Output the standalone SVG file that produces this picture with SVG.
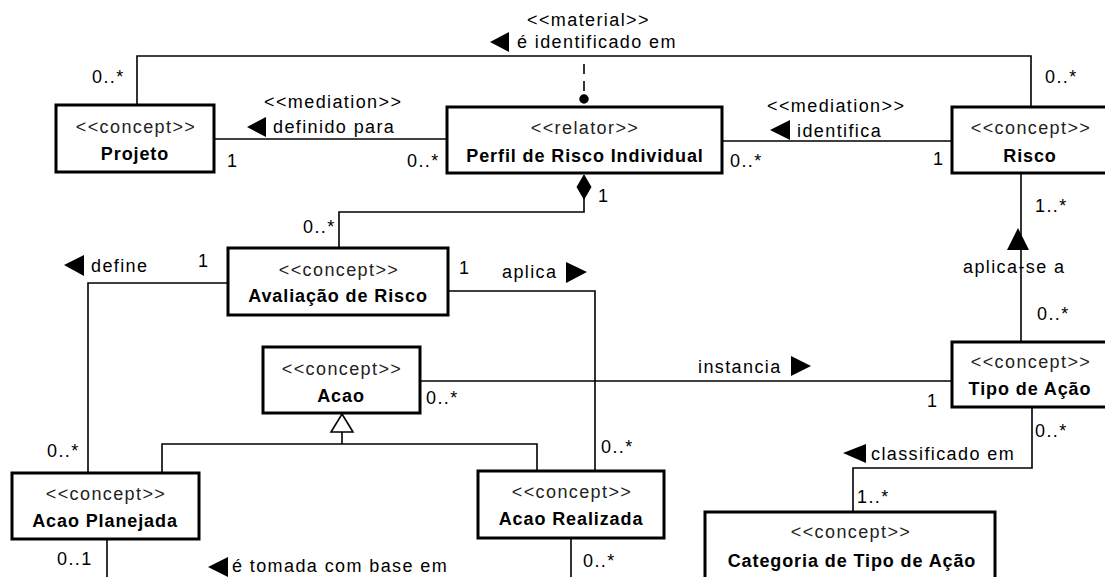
<svg xmlns="http://www.w3.org/2000/svg" width="1105" height="577" viewBox="0 0 1105 577">
<style>
  .box { fill: #fff; stroke: #000; stroke-width: 3; }
  .st { font-family: "Liberation Sans", Arial, sans-serif; font-size: 18px; letter-spacing: 1.4px; fill: #222; text-anchor: middle; }
  .nm { font-family: "Liberation Sans", Arial, sans-serif; font-size: 18px; font-weight: bold; letter-spacing: 0.9px; fill: #000; text-anchor: middle; }
  .lb { font-family: "Liberation Sans", Arial, sans-serif; font-size: 18px; letter-spacing: 1.4px; fill: #000; }
  .ln { fill: none; stroke: #000; stroke-width: 1.6; }
  .dir { fill: #000; stroke: none; }
</style>
<rect width="1105" height="577" fill="#fff"/>

<g id="connectors">
  <!-- material: Projeto - Risco -->
  <polyline class="ln" points="137,105 137,56 1031,56 1031,107"/>
  <line class="ln" x1="584" y1="64" x2="584" y2="91" stroke-dasharray="10,7"/>
  <text class="lb" x="92" y="83">0..*</text>
  <text class="lb" x="1045" y="83">0..*</text>
  <text class="lb" x="527" y="26">&lt;&lt;material&gt;&gt;</text>
  <polygon class="dir" points="490,42 509,32 509,52"/>
  <text class="lb" x="517" y="48">é identificado em</text>

  <!-- mediation Projeto - Perfil -->
  <line class="ln" x1="214" y1="139" x2="447" y2="139"/>
  <text class="lb" x="264" y="108">&lt;&lt;mediation&gt;&gt;</text>
  <polygon class="dir" points="247,127 266,117 266,137"/>
  <text class="lb" x="273" y="133">definido para</text>
  <text class="lb" x="227" y="167">1</text>
  <text class="lb" x="407" y="167">0..*</text>

  <!-- mediation Perfil - Risco -->
  <line class="ln" x1="722" y1="141" x2="952" y2="141"/>
  <text class="lb" x="767" y="112">&lt;&lt;mediation&gt;&gt;</text>
  <polygon class="dir" points="770,130 790,120 790,140"/>
  <text class="lb" x="797" y="137">identifica</text>
  <text class="lb" x="730" y="167">0..*</text>
  <text class="lb" x="933" y="165">1</text>

  <!-- composition Perfil - Avaliacao -->
  <polyline class="ln" points="339,248 339,212 584,212 584,198"/>
  <polygon fill="#000" stroke="#000" stroke-width="1" points="584,175 591,187 584,199 577,187"/>
  <text class="lb" x="303" y="233">0..*</text>
  <text class="lb" x="598" y="202">1</text>

  <!-- define: Avaliacao - Acao Planejada -->
  <polyline class="ln" points="228,283 88,283 88,473"/>
  <polygon class="dir" points="64,265 84,255 84,276"/>
  <text class="lb" x="91" y="272">define</text>
  <text class="lb" x="198" y="267">1</text>
  <text class="lb" x="47" y="457">0..*</text>

  <!-- aplica: Avaliacao - Acao Realizada -->
  <polyline class="ln" points="448,291 595,291 595,471"/>
  <text class="lb" x="459" y="274">1</text>
  <text class="lb" x="502" y="278">aplica</text>
  <polygon class="dir" points="587,272 566,262 566,283"/>
  <text class="lb" x="601" y="453">0..*</text>

  <!-- generalization -->
  <polyline class="ln" points="162,473 162,444 537,444 537,471"/>
  <line class="ln" x1="342" y1="444" x2="342" y2="432"/>
  <polygon fill="#fff" stroke="#000" stroke-width="1.6" points="342,414 353,432 331,432"/>

  <!-- instancia: Acao - Tipo de Acao -->
  <line class="ln" x1="420" y1="381" x2="952" y2="381"/>
  <text class="lb" x="698" y="373">instancia</text>
  <polygon class="dir" points="811,366 791,356 791,376"/>
  <text class="lb" x="426" y="404">0..*</text>
  <text class="lb" x="927" y="407">1</text>

  <!-- aplica-se a: Tipo de Acao - Risco -->
  <line class="ln" x1="1021" y1="173" x2="1021" y2="342"/>
  <polygon class="dir" points="1018,228 1029,250 1007,250"/>
  <text class="lb" x="963" y="273">aplica-se a</text>
  <text class="lb" x="1035" y="212">1..*</text>
  <text class="lb" x="1037" y="320">0..*</text>

  <!-- classificado em -->
  <polyline class="ln" points="1032,407 1032,468 853,468 853,512"/>
  <polygon class="dir" points="843,453 866,444 866,463"/>
  <text class="lb" x="871" y="460">classificado em</text>
  <text class="lb" x="1035" y="437">0..*</text>
  <text class="lb" x="857" y="503">1..*</text>

  <!-- é tomada com base em: Acao Planejada - Acao Realizada (continues below) -->
  <line class="ln" x1="107" y1="539" x2="107" y2="580"/>
  <line class="ln" x1="571" y1="538" x2="571" y2="580"/>
  <text class="lb" x="57" y="565">0..1</text>
  <text class="lb" x="583" y="567">0..*</text>
  <polygon class="dir" points="208,567 228,557 228,577"/>
  <text class="lb" x="232" y="572">é tomada com base em</text>
</g>

<g id="projeto">
  <rect class="box" x="56" y="105" width="158" height="67"/>
  <text class="st" x="136" y="133">&lt;&lt;concept&gt;&gt;</text>
  <text class="nm" x="135" y="160">Projeto</text>
</g>
<g id="perfil">
  <rect class="box" x="447" y="107" width="275" height="66"/>
  <text class="st" x="585" y="134">&lt;&lt;relator&gt;&gt;</text>
  <text class="nm" x="585" y="162">Perfil de Risco Individual</text>
</g>
<circle cx="584" cy="99" r="5.5" fill="#000" stroke="#fff" stroke-width="1.5"/>
<g id="risco">
  <rect class="box" x="952" y="107" width="157" height="66"/>
  <text class="st" x="1031" y="134">&lt;&lt;concept&gt;&gt;</text>
  <text class="nm" x="1030" y="162">Risco</text>
</g>
<g id="avaliacao">
  <rect class="box" x="228" y="248" width="220" height="67"/>
  <text class="st" x="339" y="276">&lt;&lt;concept&gt;&gt;</text>
  <text class="nm" x="338" y="302">Avaliação de Risco</text>
</g>
<g id="acao">
  <rect class="box" x="263" y="347" width="157" height="66"/>
  <text class="st" x="342" y="375">&lt;&lt;concept&gt;&gt;</text>
  <text class="nm" x="341" y="402">Acao</text>
</g>
<g id="tipo-acao">
  <rect class="box" x="952" y="342" width="157" height="65"/>
  <text class="st" x="1031" y="368">&lt;&lt;concept&gt;&gt;</text>
  <text class="nm" x="1030" y="395">Tipo de Ação</text>
</g>
<g id="acao-planejada">
  <rect class="box" x="12" y="473" width="187" height="66"/>
  <text class="st" x="106" y="500">&lt;&lt;concept&gt;&gt;</text>
  <text class="nm" x="105" y="527">Acao Planejada</text>
</g>
<g id="acao-realizada">
  <rect class="box" x="478" y="471" width="186" height="67"/>
  <text class="st" x="572" y="498">&lt;&lt;concept&gt;&gt;</text>
  <text class="nm" x="571" y="525">Acao Realizada</text>
</g>
<g id="categoria">
  <rect class="box" x="705" y="512" width="290" height="68"/>
  <text class="st" x="851" y="538">&lt;&lt;concept&gt;&gt;</text>
  <text class="nm" x="852" y="567">Categoria de Tipo de Ação</text>
</g>
</svg>
